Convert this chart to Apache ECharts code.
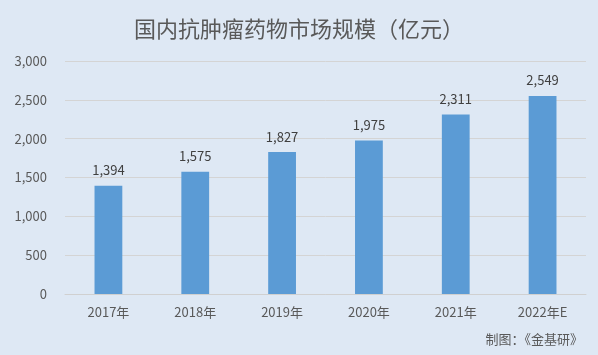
<!DOCTYPE html>
<html><head><meta charset="utf-8">
<script src="https://cdn.jsdelivr.net/npm/echarts@6/dist/echarts.min.js"></script>
<style>html,body{margin:0;padding:0;background:#dee8f4;}#c{width:598px;height:355px;}</style>
</head><body><div id="c"></div>
<script>
const categories = ['2017年','2018年','2019年','2020年','2021年','2022年E'];
const values = [1394, 1575, 1827, 1975, 2311, 2549];
const titleText = '国内抗肿瘤药物市场规模（亿元）';
const footerText = '制图：《金基研》';
const font = '"Microsoft YaHei","Noto Sans CJK SC",sans-serif';
const chart = echarts.init(document.getElementById('c'));
chart.setOption({
  backgroundColor: '#dee8f4',
  animation: false,
  title: [{
    text: titleText, left: 'center', top: 13,
    textStyle: {fontSize: 22, fontWeight: 'normal', color: '#595959', fontFamily: font}
  },{
    text: footerText, right: 10, bottom: 4,
    textStyle: {fontSize: 13, fontWeight: 'normal', color: '#595959', fontFamily: font}
  }],
  grid: {left: 65, right: 12, top: 61, bottom: 61},
  xAxis: {
    type: 'category', data: categories,
    axisLine: {lineStyle: {color: '#d0d0d0'}},
    axisTick: {show: false},
    axisLabel: {color: '#595959', fontSize: 13, margin: 12, fontFamily: font}
  },
  yAxis: {
    type: 'value', min: 0, max: 3000, interval: 500,
    axisLine: {show: false}, axisTick: {show: false},
    splitLine: {lineStyle: {color: '#d4d4d4'}},
    axisLabel: {color: '#595959', fontSize: 13, margin: 18, fontFamily: font,
      formatter: v => v.toLocaleString('en-US')}
  },
  series: [{
    type: 'bar', data: values, barWidth: '32%',
    itemStyle: {color: '#5b9bd5'},
    label: {show: true, position: 'top', distance: 9, color: '#404040', fontSize: 13, fontFamily: font,
      formatter: p => p.value.toLocaleString('en-US')}
  }]
});
</script></body></html>
